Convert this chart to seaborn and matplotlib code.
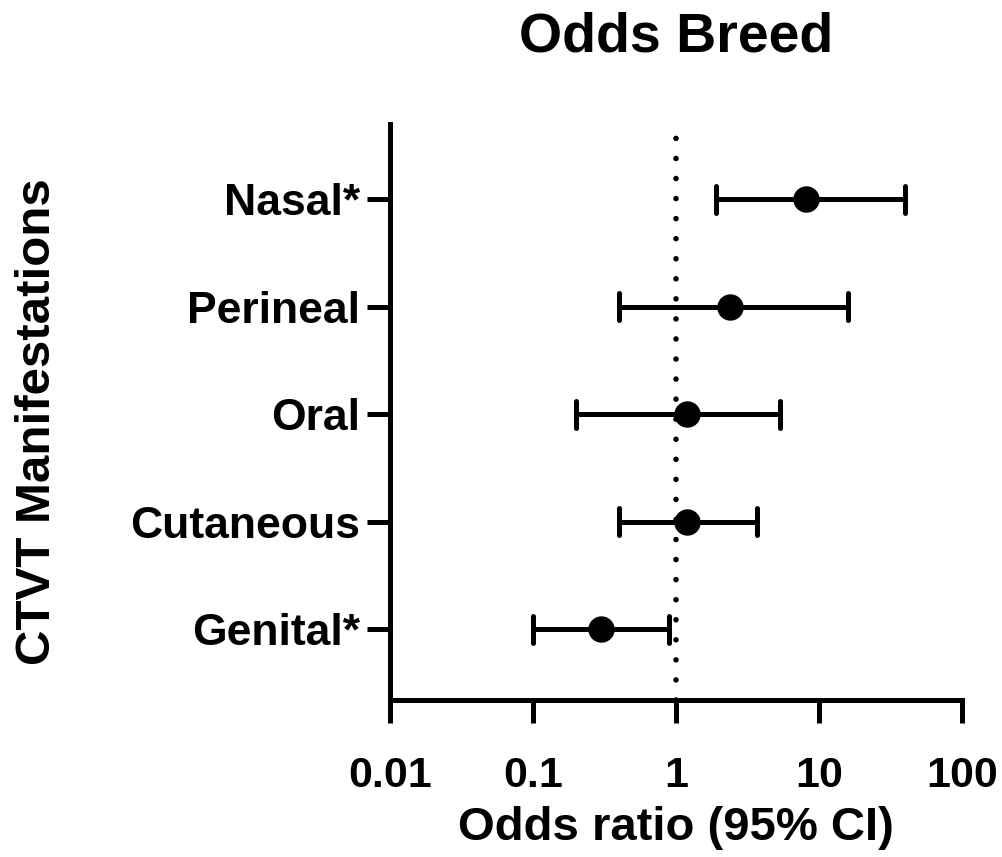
import numpy as np
import pandas as pd
import matplotlib
matplotlib.use("Agg")
import matplotlib.pyplot as plt
import seaborn as sns

# ---- data ----
categories = ["Nasal*", "Perineal", "Oral", "Cutaneous", "Genital*"]
odds_ratio = [8.1, 2.4, 1.2, 1.2, 0.3]
ci_low = [1.9, 0.4, 0.2, 0.4, 0.1]
ci_high = [40.0, 16.0, 5.3, 3.7, 0.9]
x_ticks = [0.01, 0.1, 1, 10, 100]
x_tick_labels = ["0.01", "0.1", "1", "10", "100"]

rows = []
for c, lo, est, hi in zip(categories, ci_low, odds_ratio, ci_high):
    for v in (lo, est, hi):
        rows.append({"Manifestation": c, "OR": v})
df = pd.DataFrame(rows)

sns.set_style("ticks")
plt.rcParams["font.family"] = ["Liberation Sans", "DejaVu Sans"]
plt.rcParams["font.weight"] = "bold"
plt.rcParams["text.color"] = "black"
plt.rcParams["axes.labelcolor"] = "black"
plt.rcParams["xtick.color"] = "black"
plt.rcParams["ytick.color"] = "black"
plt.rcParams["axes.edgecolor"] = "black"

fig = plt.figure(figsize=(10.02, 8.57), dpi=100)
W, H = 1002, 857
ax = fig.add_axes([390 / W, 1 - 700 / H, 572 / W, 576 / H])
ax.set_xscale("log")

lw = 3.6
sns.pointplot(data=df, x="OR", y="Manifestation", order=categories,
              estimator="median", errorbar=("pi", 100),
              linestyle="none", marker="o", markersize=19,
              markeredgewidth=0, color="black", capsize=0.25,
              err_kws={"linewidth": lw}, ax=ax)

ax.axvline(1, color="black", linewidth=4.0,
           linestyle=(0, (0.01, 3.6)), dash_capstyle="round", zorder=0)

ax.set_xlim(0.01, 100)
ax.set_ylim(4.66, -0.70)
ax.set_xticks(x_ticks)
ax.set_xticklabels(x_tick_labels)
ax.xaxis.set_minor_locator(matplotlib.ticker.NullLocator())

for s in ["top", "right"]:
    ax.spines[s].set_visible(False)
for s in ["left", "bottom"]:
    ax.spines[s].set_linewidth(lw)
    ax.spines[s].set_color("black")

ax.tick_params(axis="x", which="major", length=16.5, width=lw,
               labelsize=31, pad=24, color="black", labelcolor="black")
ax.tick_params(axis="y", which="major", length=16.5, width=lw,
               labelsize=32, pad=5, color="black", labelcolor="black")
for t in ax.get_xticklabels() + ax.get_yticklabels():
    t.set_fontweight("bold")

ax.set_xlabel("Odds ratio (95% CI)", fontsize=34, fontweight="bold",
              va="baseline", color="black")
ax.xaxis.set_label_coords(0.5, (700 - 840) / 576)
ax.set_ylabel("CTVT Manifestations", fontsize=35.5, fontweight="bold",
              va="center", color="black")
ax.yaxis.set_label_coords((38 - 390) / 572, (700 - 422) / 576)
ax.set_title("Odds Breed", fontsize=40, fontweight="bold", y=(700 - 52) / 576,
             va="baseline", pad=0, color="black")

fig.savefig("out.png", dpi=100, facecolor="white")
